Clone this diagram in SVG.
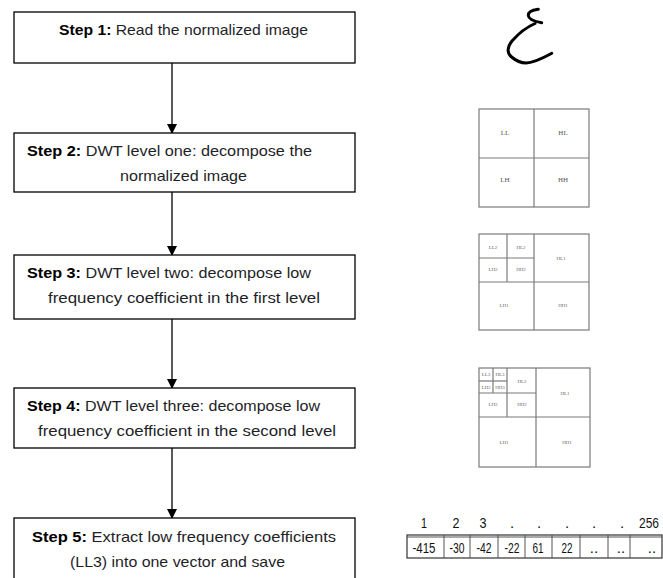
<svg xmlns="http://www.w3.org/2000/svg" width="663" height="578" viewBox="0 0 663 578">
<defs>
<marker id="arr" markerWidth="10" markerHeight="10" refX="9" refY="5" orient="auto" markerUnits="userSpaceOnUse">
<path d="M0,0 L10,5 L0,10 Z" fill="#000"/>
</marker>
<style>
.box{fill:#fff;stroke:#000;stroke-width:1.3}
.t{font-family:"Liberation Sans",Arial,sans-serif;font-size:15px;fill:#1e1e28}
.b{font-weight:bold;fill:#000}
.c{stroke:#000;stroke-width:1.3;fill:none;marker-end:url(#arr)}
.g{fill:#fff;stroke:#7a7a7a;stroke-width:1.2}
.gl{stroke:#7a7a7a;stroke-width:1.2}
.lb{font-family:"Liberation Serif","Times New Roman",serif;font-size:7px;fill:#555;text-anchor:middle}
.sl{font-family:"Liberation Serif","Times New Roman",serif;font-size:5px;fill:#666;text-anchor:middle}
.v{font-family:"Liberation Sans",Arial,sans-serif;font-size:15px;fill:#111;text-anchor:middle}
.tb{fill:#fff;stroke:#333;stroke-width:1.2}
.tl{stroke:#555;stroke-width:1}
</style>
</defs>
<rect width="663" height="578" fill="#fff"/>

<g id="connectors">
<line class="c" x1="172" y1="63" x2="172" y2="133"/>
<line class="c" x1="172" y1="192" x2="172" y2="255"/>
<line class="c" x1="172" y1="319" x2="172" y2="388"/>
<line class="c" x1="172" y1="448" x2="172" y2="518"/>
</g>

<g id="step1">
<rect class="box" x="14" y="12" width="341" height="51"/>
<text class="t" x="59" y="35" textLength="249" lengthAdjust="spacingAndGlyphs"><tspan class="b">Step 1:</tspan> Read the normalized image</text>
</g>
<g id="step2">
<rect class="box" x="14" y="133" width="341" height="59"/>
<text class="t" x="27" y="156" textLength="285" lengthAdjust="spacingAndGlyphs"><tspan class="b">Step 2:</tspan> DWT level one:  decompose the</text>
<text class="t" x="120" y="181" textLength="127" lengthAdjust="spacingAndGlyphs">normalized image</text>
</g>
<g id="step3">
<rect class="box" x="14" y="255" width="341" height="64"/>
<text class="t" x="27" y="278" textLength="284" lengthAdjust="spacingAndGlyphs"><tspan class="b">Step 3:</tspan> DWT level two:  decompose low</text>
<text class="t" x="48" y="303" textLength="272" lengthAdjust="spacingAndGlyphs">frequency coefficient in the first level</text>
</g>
<g id="step4">
<rect class="box" x="14" y="388" width="341" height="60"/>
<text class="t" x="27" y="411" textLength="293" lengthAdjust="spacingAndGlyphs"><tspan class="b">Step 4:</tspan> DWT level three: decompose low</text>
<text class="t" x="38" y="436" textLength="298" lengthAdjust="spacingAndGlyphs">frequency coefficient in the second level</text>
</g>
<g id="step5">
<rect class="box" x="14" y="518" width="341" height="62"/>
<text class="t" x="32" y="542" textLength="304" lengthAdjust="spacingAndGlyphs"><tspan class="b">Step 5:</tspan>  Extract low frequency coefficients</text>
<text class="t" x="70" y="567" textLength="215" lengthAdjust="spacingAndGlyphs">(LL3) into one vector and save</text>
</g>

<g id="handwriting">
<path d="M538.3,9.3 C533,10 528,12 528.3,15.5 C528.5,19 532,21 541.7,22.7" fill="none" stroke="#000" stroke-width="3" stroke-linecap="round"/>
<path d="M535,23.5 C527,27 519,33 512,41 C507,47 507,53 511,56.5 C515,60 520,63 526,63 C534,63 543,58 551.7,53.3" fill="none" stroke="#000" stroke-width="3" stroke-linecap="round"/>
</g>

<g id="dwt1">
<rect class="g" x="479" y="109" width="110" height="98"/>
<line class="gl" x1="534" y1="109" x2="534" y2="207"/>
<line class="gl" x1="479" y1="158" x2="589" y2="158"/>
<text class="lb" x="505" y="135">LL</text>
<text class="lb" x="563" y="135">HL</text>
<text class="lb" x="505" y="182">LH</text>
<text class="lb" x="563" y="182">HH</text>
</g>

<g id="dwt2">
<rect class="g" x="479" y="234" width="110" height="96"/>
<line class="gl" x1="534" y1="234" x2="534" y2="330"/>
<line class="gl" x1="479" y1="282" x2="589" y2="282"/>
<line class="gl" x1="507" y1="234" x2="507" y2="282"/>
<line class="gl" x1="479" y1="258" x2="534" y2="258"/>
<text class="sl" x="493" y="249">LL2</text>
<text class="sl" x="521" y="249">HL2</text>
<text class="sl" x="493" y="271">LH2</text>
<text class="sl" x="521" y="271">HH2</text>
<text class="sl" x="561" y="260">HL1</text>
<text class="sl" x="504" y="307">LH1</text>
<text class="sl" x="563" y="307">HH1</text>
</g>

<g id="dwt3">
<rect class="g" x="479" y="368" width="111" height="99"/>
<line class="gl" x1="536" y1="368" x2="536" y2="467"/>
<line class="gl" x1="479" y1="417" x2="590" y2="417"/>
<line class="gl" x1="507" y1="368" x2="507" y2="417"/>
<line class="gl" x1="479" y1="393" x2="536" y2="393"/>
<line class="gl" x1="493" y1="368" x2="493" y2="393"/>
<line class="gl" x1="479" y1="381" x2="507" y2="381"/>
<text class="sl" x="486" y="376">LL3</text>
<text class="sl" x="500" y="376">HL3</text>
<text class="sl" x="486" y="389">LH3</text>
<text class="sl" x="500" y="389">HH3</text>
<text class="sl" x="522" y="383">HL2</text>
<text class="sl" x="493" y="406">LH2</text>
<text class="sl" x="522" y="406">HH2</text>
<text class="sl" x="565" y="395">HL1</text>
<text class="sl" x="504" y="444">LH1</text>
<text class="sl" x="567" y="444">HH1</text>
</g>

<g id="vector">
<text class="v" x="424" y="528" textLength="6" lengthAdjust="spacingAndGlyphs">1</text>
<text class="v" x="456" y="528" textLength="7" lengthAdjust="spacingAndGlyphs">2</text>
<text class="v" x="483" y="528" textLength="7" lengthAdjust="spacingAndGlyphs">3</text>
<text class="v" x="512" y="528">.</text>
<text class="v" x="539" y="528">.</text>
<text class="v" x="567" y="528">.</text>
<text class="v" x="594" y="528">.</text>
<text class="v" x="622" y="528">.</text>
<text class="v" x="639" y="528" style="text-anchor:start" textLength="20" lengthAdjust="spacingAndGlyphs">256</text>
<rect class="tb" x="407" y="535" width="255" height="23"/>
<line class="tl" x1="407" y1="537" x2="662" y2="537"/>
<line class="tl" x1="444" y1="535" x2="444" y2="558"/>
<line class="tl" x1="470" y1="535" x2="470" y2="558"/>
<line class="tl" x1="498" y1="535" x2="498" y2="558"/>
<line class="tl" x1="525" y1="535" x2="525" y2="558"/>
<line class="tl" x1="552" y1="535" x2="552" y2="558"/>
<line class="tl" x1="580" y1="535" x2="580" y2="558"/>
<line class="tl" x1="608" y1="535" x2="608" y2="558"/>
<line class="tl" x1="630" y1="535" x2="630" y2="558"/>
<text class="v" x="424" y="553" textLength="23" lengthAdjust="spacingAndGlyphs">-415</text>
<text class="v" x="457" y="553" textLength="15" lengthAdjust="spacingAndGlyphs">-30</text>
<text class="v" x="484" y="553" textLength="15" lengthAdjust="spacingAndGlyphs">-42</text>
<text class="v" x="512" y="553" textLength="15" lengthAdjust="spacingAndGlyphs">-22</text>
<text class="v" x="538" y="553" textLength="11" lengthAdjust="spacingAndGlyphs">61</text>
<text class="v" x="567" y="553" textLength="11" lengthAdjust="spacingAndGlyphs">22</text>
<text class="v" x="594" y="553">..</text>
<text class="v" x="621" y="553">..</text>
<text class="v" x="652" y="553">..</text>
</g>
</svg>
